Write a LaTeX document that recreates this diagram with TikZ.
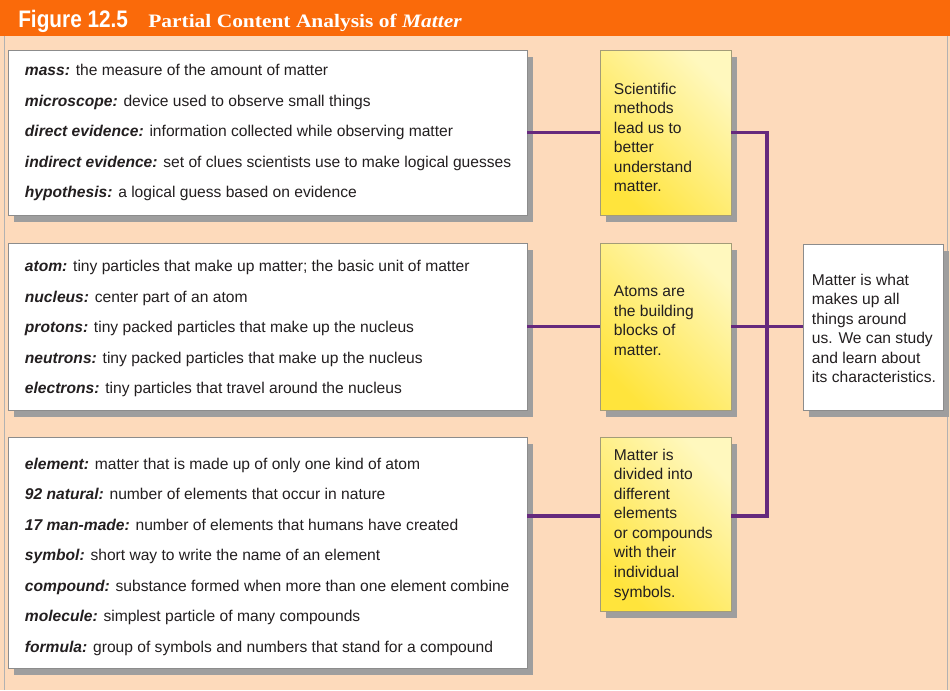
\documentclass[tikz,border=0pt]{standalone}
\usepackage{fontspec}
\setmainfont{Liberation Sans}
\newfontfamily\titleserif{Liberation Serif}
\usepackage{graphicx}
\usepackage{tikz}
\usetikzlibrary{shadows}
\definecolor{figorange}{HTML}{FA6A0A}
\definecolor{panelpeach}{HTML}{FDDABB}
\definecolor{linkpurple}{HTML}{66297D}
\definecolor{notelight}{HTML}{FFF8BE}
\definecolor{notedark}{HTML}{FFE43C}
\definecolor{notedraw}{HTML}{A39C78}
\definecolor{inkgray}{HTML}{231F20}
\newcommand{\defterm}[1]{\textbf{\textit{#1}}}

\begin{document}
\begin{tikzpicture}[
    shadowed/.style={drop shadow={shadow xshift=0.15cm, shadow yshift=-0.18cm,
                     fill=black!38, opacity=1}},
    def box/.style={draw=black!45, fill=white, line width=0.5pt, inner sep=0pt,
                    shadowed, minimum width=12.975cm},
    note box/.style={draw=notedraw, top color=notelight, bottom color=notedark,
                     shading angle=-45, line width=0.5pt, inner sep=0pt,
                     shadowed, minimum width=3.275cm},
    def text/.style={anchor=west, align=left, inner sep=0pt, text=inkgray,
                     font=\fontsize{11.1}{21.7}\selectfont},
    note text/.style={anchor=north west, align=left, inner sep=0pt, text=inkgray,
                      font=\fontsize{11.1}{13.9}\selectfont},
    link/.style={draw=linkpurple, line width=2.2pt},
]
    \useasboundingbox (0,0) rectangle (23.75,-17.25);

    % Header and panel
    \fill[figorange] (0,0) rectangle (23.75,-0.9);
    \fill[panelpeach] (0,-0.9) rectangle (23.75,-17.25);
    \draw[black!30, line width=0.6pt] (0.12,-0.9) -- (0.12,-17.25)
                                      (23.68,-0.9) -- (23.68,-17.25);
    \node[anchor=base west, inner sep=0pt, text=white,
          font=\fontsize{17}{17}\selectfont\bfseries] (figno) at (0.45,-0.675)
          {\scalebox{0.87}[1]{Figure 12.5}};
    \node[anchor=base west, inner sep=0pt, text=white,
          font=\titleserif\fontsize{13.5}{13.5}\selectfont\bfseries] (figtitle) at (3.7,-0.675)
          {\scalebox{1.13}[1]{Partial Content Analysis of \textit{Matter}}};

    % Definition boxes
    \node[def box, minimum height=4.125cm] (def1) at (6.6875,-3.3125) {};
    \node[def text] at ([xshift=0.425cm]def1.west) {%
        \defterm{mass:} the measure of the amount of matter\\
        \defterm{microscope:} device used to observe small things\\
        \defterm{direct evidence:} information collected while observing matter\\
        \defterm{indirect evidence:} set of clues scientists use to make logical guesses\\
        \defterm{hypothesis:} a logical guess based on evidence};

    \node[def box, minimum height=4.175cm] (def2) at (6.6875,-8.1625) {};
    \node[def text] at ([xshift=0.425cm, yshift=-0.05cm]def2.west) {%
        \defterm{atom:} tiny particles that make up matter; the basic unit of matter\\
        \defterm{nucleus:} center part of an atom\\
        \defterm{protons:} tiny packed particles that make up the nucleus\\
        \defterm{neutrons:} tiny packed particles that make up the nucleus\\
        \defterm{electrons:} tiny particles that travel around the nucleus};

    \node[def box, minimum height=5.775cm] (def3) at (6.6875,-13.8125) {};
    \node[def text] at ([xshift=0.425cm, yshift=-0.1cm]def3.west) {%
        \defterm{element:} matter that is made up of only one kind of atom\\
        \defterm{92 natural:} number of elements that occur in nature\\
        \defterm{17 man-made:} number of elements that humans have created\\
        \defterm{symbol:} short way to write the name of an element\\
        \defterm{compound:} substance formed when more than one element combine\\
        \defterm{molecule:} simplest particle of many compounds\\
        \defterm{formula:} group of symbols and numbers that stand for a compound};

    % Summary notes
    \node[note box, minimum height=4.125cm] (sum1) at (16.6375,-3.3125) {};
    \node[note text] at ([xshift=0.35cm, yshift=-0.82cm]sum1.north west)
        {Scientific\\ methods\\ lead us to\\ better\\ understand\\ matter.};

    \node[note box, minimum height=4.175cm] (sum2) at (16.6375,-8.1625) {};
    \node[note text] at ([xshift=0.35cm, yshift=-1.075cm]sum2.north west)
        {Atoms are\\ the building\\ blocks of\\ matter.};

    \node[note box, minimum height=4.35cm] (sum3) at (16.6375,-13.1) {};
    \node[note text] at ([xshift=0.35cm, yshift=-0.3cm]sum3.north west)
        {Matter is\\ divided into\\ different\\ elements\\ or compounds\\ with their\\ individual\\ symbols.};

    % Big idea
    \node[def box, minimum width=3.5cm, minimum height=4.15cm] (whole) at (21.825,-8.175) {};
    \node[note text] at ([xshift=0.225cm, yshift=-0.75cm]whole.north west)
        {Matter is what\\ makes up all\\ things around\\ us. We can study\\ and learn about\\ its characteristics.};

    % Connectors
    \coordinate (spinetop) at (19.175,-3.3125);
    \coordinate (spinebot) at (19.175,-12.9);
    \draw[link] (def1) -- (sum1);
    \draw[link] (def2) -- (sum2);
    \draw[link] (def3.east |- spinebot) -- (sum3.west |- spinebot);
    \draw[link] (sum1.east) -- (spinetop) -- (spinebot) -- (sum3.east |- spinebot);
    \draw[link] (sum2.east) -- (sum2.east -| whole.west);
\end{tikzpicture}
\end{document}
